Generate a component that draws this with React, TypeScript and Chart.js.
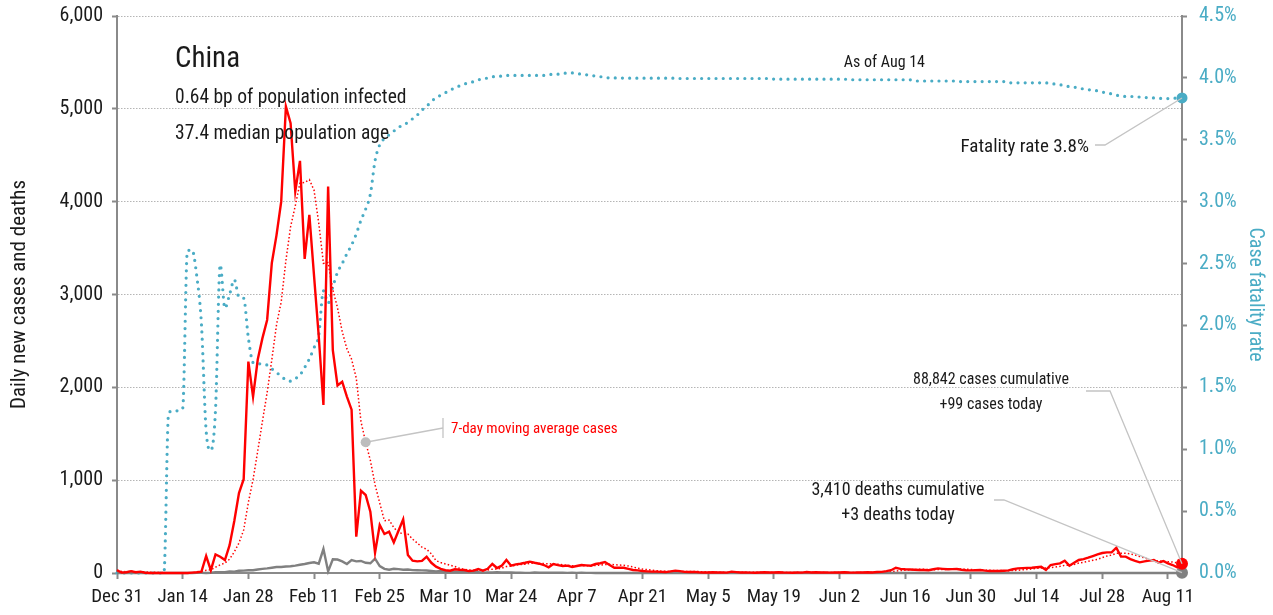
import React, { useEffect, useRef } from 'react';
import { Chart, registerables } from 'chart.js';

Chart.register(...registerables);

const FONT = "'Liberation Sans Narrow', 'Roboto Condensed', 'DejaVu Sans Condensed', 'Arial Narrow', sans-serif";

// Day index 0 = Dec 31, last index 227 = Aug 14
const X_TICK_DAYS = [0, 14, 28, 42, 56, 70, 84, 98, 112, 126, 140, 154, 168, 182, 196, 210, 224];
const X_TICK_LABELS = ['Dec 31', 'Jan 14', 'Jan 28', 'Feb 11', 'Feb 25', 'Mar 10', 'Mar 24', 'Apr 7', 'Apr 21', 'May 5', 'May 19', 'Jun 2', 'Jun 16', 'Jun 30', 'Jul 14', 'Jul 28', 'Aug 11'];

const DAILY_CASES = [
  30, 5, 8, 20, 8, 15, 3, 0, 0, 0,
  0, 0, 0, 0, 0, 0, 4, 8, 15, 183,
  30, 200, 175, 140, 300, 560, 860, 1010, 2277, 1900,
  2300, 2530, 2726, 3340, 3640, 4000, 5025, 4845, 4110, 4440,
  3384, 3858, 3200, 2550, 1810, 4163, 2400, 2020, 2060, 1900,
  1760, 391, 887, 840, 660, 219, 517, 420, 445, 330,
  455, 578, 194, 133, 125, 130, 176, 110, 68, 45,
  30, 25, 40, 35, 32, 20, 25, 43, 25, 45,
  97, 54, 79, 140, 79, 93, 100, 110, 122, 110,
  100, 86, 61, 97, 85, 75, 79, 65, 75, 86,
  82, 79, 97, 105, 118, 86, 57, 57, 57, 45,
  32, 28, 22, 18, 15, 15, 12, 10, 18, 25,
  20, 12, 10, 12, 8, 6, 5, 8, 6, 5,
  4, 15, 10, 6, 5, 4, 3, 5, 8, 5,
  6, 8, 5, 4, 3, 6, 4, 10, 5, 8,
  6, 5, 4, 5, 6, 8, 5, 4, 6, 5,
  8, 6, 10, 12, 20, 30, 57, 45, 40, 38,
  35, 33, 32, 30, 40, 50, 45, 40, 42, 43,
  35, 30, 28, 30, 32, 26, 22, 22, 22, 25,
  28, 40, 50, 52, 55, 57, 62, 68, 32, 86,
  95, 104, 133, 79, 110, 140, 150, 165, 183, 200,
  215, 222, 223, 273, 176, 176, 150, 130, 115, 125,
  133, 140, 111, 129, 104, 86, 60, 99,
];

const DAILY_DEATHS = [
  0, 0, 0, 0, 0, 0, 0, 0, 0, 0,
  0, 1, 0, 0, 0, 0, 0, 1, 1, 0,
  3, 8, 9, 8, 16, 15, 24, 26, 30, 30,
  38, 45, 50, 57, 64, 65, 70, 73, 80, 89,
  97, 108, 115, 100, 258, 18, 147, 145, 125, 97,
  140, 125, 130, 110, 105, 155, 75, 45, 35, 45,
  42, 35, 38, 31, 30, 28, 27, 22, 17, 22,
  11, 7, 13, 10, 14, 13, 11, 8, 3, 7,
  6, 9, 7, 5, 6, 3, 4, 1, 1, 7,
  3, 4, 2, 3, 2, 3, 1, 2, 1, 2,
  1, 1, 0, 1, 0, 1, 0, 0, 1, 0,
  0, 0, 0, 0, 1, 0, 0, 0, 0, 0,
  0, 0, 0, 0, 0, 0, 0, 0, 0, 0,
  0, 0, 0, 0, 0, 0, 0, 0, 0, 0,
  0, 0, 0, 0, 0, 0, 0, 0, 0, 0,
  0, 0, 0, 0, 0, 0, 0, 0, 0, 0,
  0, 0, 0, 0, 0, 0, 0, 0, 0, 0,
  0, 0, 0, 0, 0, 0, 0, 0, 0, 0,
  0, 0, 0, 0, 0, 0, 0, 0, 0, 0,
  0, 0, 0, 0, 0, 0, 0, 0, 0, 0,
  0, 0, 0, 0, 0, 0, 0, 0, 0, 0,
  0, 0, 0, 0, 0, 0, 0, 0, 0, 0,
  0, 0, 0, 0, 0, 0, 0, 3,
];

// Case fatality rate, percent
const FATALITY_RATE = [
  0, 0, 0, 0, 0, 0, 0, 0, 0, 0,
  0, 1.29, 1.31, 1.31, 1.33, 2.60, 2.61, 2.40, 2.01, 1.15,
  0.99, 1.32, 2.49, 2.14, 2.25, 2.37, 2.23, 2.22, 1.90, 1.70,
  1.69, 1.69, 1.68, 1.65, 1.62, 1.59, 1.56, 1.55, 1.57, 1.60,
  1.66, 1.73, 1.82, 1.92, 2.28, 2.18, 2.31, 2.43, 2.50, 2.58,
  2.65, 2.74, 2.85, 2.94, 3.06, 3.33, 3.46, 3.51, 3.54, 3.57,
  3.60, 3.62, 3.64, 3.67, 3.70, 3.74, 3.77, 3.81, 3.84, 3.86,
  3.88, 3.90, 3.92, 3.935, 3.95, 3.96, 3.97, 3.985, 3.99, 4.00,
  4.01, 4.01, 4.015, 4.02, 4.02, 4.02, 4.02, 4.02, 4.02, 4.02,
  4.02, 4.02, 4.025, 4.03, 4.03, 4.035, 4.04, 4.04, 4.035, 4.03,
  4.025, 4.02, 4.015, 4.01, 4.005, 4.0, 4.0, 4.0, 3.998, 3.998,
  3.998, 3.998, 3.998, 3.998, 3.998, 3.998, 3.998, 3.998, 3.998, 3.998,
  3.995, 3.995, 3.995, 3.995, 3.995, 3.995, 3.995, 3.995, 3.995, 3.995,
  3.995, 3.995, 3.995, 3.995, 3.995, 3.995, 3.995, 3.995, 3.995, 3.995,
  3.99, 3.99, 3.99, 3.99, 3.99, 3.99, 3.99, 3.99, 3.99, 3.99,
  3.99, 3.99, 3.99, 3.99, 3.99, 3.99, 3.985, 3.985, 3.985, 3.985,
  3.985, 3.985, 3.985, 3.985, 3.985, 3.985, 3.985, 3.985, 3.985, 3.985,
  3.975, 3.975, 3.975, 3.975, 3.975, 3.975, 3.975, 3.975, 3.975, 3.975,
  3.97, 3.97, 3.97, 3.97, 3.97, 3.97, 3.97, 3.97, 3.97, 3.97,
  3.96, 3.96, 3.96, 3.96, 3.96, 3.96, 3.96, 3.96, 3.96, 3.955,
  3.95, 3.945, 3.935, 3.93, 3.925, 3.92, 3.91, 3.905, 3.90, 3.895,
  3.885, 3.88, 3.87, 3.86, 3.855, 3.85, 3.85, 3.848, 3.845, 3.842,
  3.84, 3.838, 3.835, 3.833, 3.833, 3.835, 3.837, 3.838,
];

// 7-day trailing moving average of daily cases
const MOVING_AVG = DAILY_CASES.map((_, i) => {
  const w = DAILY_CASES.slice(Math.max(0, i - 6), i + 1);
  return w.reduce((a, b) => a + b, 0) / w.length;
});

const MA_MARK_INDEX = 53;

const RED = '#ff0000';
const GRAY = '#808080';
const TEAL = '#4aacc5';
const AXIS = '#8a8a8a';
const TEXT = '#1a1a1a';

const toPts = (arr: number[]) => arr.map((y, x) => ({ x, y }));
const LAST = DAILY_CASES.length - 1;

const annotations = {
  id: 'annotations',
  afterDatasetsDraw(chart: any) {
    const { ctx, scales } = chart;
    const x = scales.x, y = scales.y, y1 = scales.y1;
    const txt = (s: string, px: number, py: number, size: number, color: string, align: CanvasTextAlign = 'left') => {
      ctx.save();
      ctx.font = `${size}px ${FONT}`;
      ctx.fillStyle = color;
      ctx.textAlign = align;
      ctx.textBaseline = 'alphabetic';
      ctx.fillText(s, px, py);
      ctx.restore();
    };
    const line = (pts: number[][], color = '#c4c4c4', w = 1.3) => {
      ctx.save();
      ctx.strokeStyle = color;
      ctx.lineWidth = w;
      ctx.beginPath();
      pts.forEach((p, i) => (i ? ctx.lineTo(p[0], p[1]) : ctx.moveTo(p[0], p[1])));
      ctx.stroke();
      ctx.restore();
    };

    txt('China', 175, 67, 29, TEXT);
    txt('0.64 bp of population infected', 175, 103, 19.5, TEXT);
    txt('37.4 median population age', 175, 139, 19.5, TEXT);
    txt('As of Aug 14', 925, 67, 16, TEXT, 'right');

    // fatality rate label
    const fx = x.getPixelForValue(LAST), fy = y1.getPixelForValue(FATALITY_RATE[LAST]);
    line([[1095, 145], [1105, 145], [fx, fy]]);
    txt('Fatality rate 3.8%', 1089, 152, 19, TEXT, 'right');

    // cases label
    const cx = x.getPixelForValue(LAST), cy = y.getPixelForValue(DAILY_CASES[LAST]);
    line([[1086, 391], [1110, 391], [cx, cy]]);
    txt('88,842 cases cumulative', 991, 384, 16, TEXT, 'center');
    txt('+99 cases today', 991, 409, 16, TEXT, 'center');

    // deaths label
    const dx = x.getPixelForValue(LAST), dy = y.getPixelForValue(DAILY_DEATHS[LAST]);
    line([[994, 500], [1004, 500], [dx, dy]]);
    txt('3,410 deaths cumulative', 898, 495, 18, TEXT, 'center');
    txt('+3 deaths today', 898, 520, 18, TEXT, 'center');

    // moving average label
    const mx = x.getPixelForValue(MA_MARK_INDEX), my = y.getPixelForValue(MOVING_AVG[MA_MARK_INDEX]);
    line([[mx, my], [443, 428]]);
    line([[443, 418], [443, 438]]);
    ctx.save();
    ctx.fillStyle = '#bdbdbd';
    ctx.beginPath();
    ctx.arc(mx, my, 5, 0, Math.PI * 2);
    ctx.fill();
    ctx.restore();
    txt('7-day moving average cases', 451, 433, 15, RED);
  },
};

export default function App() {
  const ref = useRef<HTMLCanvasElement | null>(null);
  useEffect(() => {
    if (!ref.current) return;
    Chart.defaults.font.family = FONT;
    const lastOnly = (r: number) => (c: any) => (c.dataIndex === LAST ? r : 0);
    const chart = new Chart(ref.current, {
      type: 'line',
      data: {
        datasets: [
          {
            label: 'Daily new cases',
            data: toPts(DAILY_CASES),
            yAxisID: 'y',
            borderColor: RED,
            backgroundColor: RED,
            borderWidth: 2.4,
            pointRadius: lastOnly(6),
            pointHoverRadius: 0,
            pointBorderWidth: 0,
            pointBackgroundColor: RED,
            clip: false,
          },
          {
            label: 'Daily deaths',
            data: toPts(DAILY_DEATHS),
            yAxisID: 'y',
            borderColor: GRAY,
            backgroundColor: GRAY,
            borderWidth: 2.4,
            pointRadius: lastOnly(6),
            pointHoverRadius: 0,
            pointBorderWidth: 0,
            pointBackgroundColor: GRAY,
            clip: false,
          },
          {
            label: '7-day moving average cases',
            data: toPts(MOVING_AVG),
            yAxisID: 'y',
            borderColor: RED,
            borderWidth: 1.5,
            borderDash: [1.5, 2.2],
            pointRadius: 0,
            pointHoverRadius: 0,
            clip: false,
          },
          {
            label: 'Case fatality rate',
            data: toPts(FATALITY_RATE),
            yAxisID: 'y1',
            borderColor: TEAL,
            backgroundColor: TEAL,
            borderWidth: 3.2,
            borderDash: [0, 7.2],
            borderCapStyle: 'round',
            cubicInterpolationMode: 'monotone',
            pointRadius: lastOnly(5.5),
            pointHoverRadius: 0,
            pointBorderWidth: 0,
            pointBackgroundColor: TEAL,
            clip: false,
          },
        ],
      },
      options: {
        responsive: false,
        animation: false,
        layout: { autoPadding: false, padding: { top: 16, left: 0, right: 0, bottom: 0 } },
        plugins: { legend: { display: false }, tooltip: { enabled: false } },
        scales: {
          x: {
            type: 'linear',
            min: 0,
            max: LAST,
            afterBuildTicks: (s: any) => {
              s.ticks = X_TICK_DAYS.map((v) => ({ value: v }));
            },
            afterFit: (s: any) => {
              s.height = 42;
              s.paddingLeft = 0;
              s.paddingRight = 0;
            },
            ticks: {
              autoSkip: false,
              maxRotation: 0,
              padding: 7,
              color: TEXT,
              font: { size: 19 },
              callback: (_v: any, i: number) => X_TICK_LABELS[i],
            },
            grid: { drawOnChartArea: false, drawTicks: true, tickLength: 6, tickColor: AXIS, tickWidth: 2, tickBorderDash: [] },
            border: { color: AXIS, width: 2 },
          },
          y: {
            position: 'left',
            min: 0,
            max: 6000,
            afterFit: (s: any) => {
              s.width = 117;
              s.paddingTop = 0;
              s.paddingBottom = 0;
            },
            ticks: {
              stepSize: 1000,
              padding: 9,
              color: TEXT,
              font: { size: 20 },
              callback: (v: any) => Number(v).toLocaleString('en-US'),
            },
            grid: { color: '#b5b5b5', lineWidth: 1, tickLength: 5, tickColor: AXIS, tickWidth: 2, tickBorderDash: [] },
            border: { color: AXIS, width: 2, dash: [1.5, 1.5] },
            title: { display: true, text: 'Daily new cases and deaths', color: TEXT, font: { size: 21 }, padding: { top: 7, bottom: 0 } },
          },
          y1: {
            position: 'right',
            min: 0,
            max: 4.5,
            afterFit: (s: any) => {
              s.width = 91;
              s.paddingTop = 0;
              s.paddingBottom = 0;
            },
            ticks: {
              stepSize: 0.5,
              padding: 12,
              color: TEAL,
              font: { size: 20 },
              callback: (v: any) => Number(v).toFixed(1) + '%',
            },
            grid: { drawOnChartArea: false, tickLength: 5, tickColor: AXIS, tickWidth: 2, tickBorderDash: [] },
            border: { color: AXIS, width: 2 },
            title: { display: true, text: 'Case fatality rate', color: TEAL, font: { size: 20 }, padding: { top: 6, bottom: 0 } },
          },
        },
      },
      plugins: [annotations],
    } as any);
    return () => chart.destroy();
  }, []);
  return (
    <div style={{ position: 'absolute', left: 0, top: 0, width: 1273, height: 615, background: '#fff' }}>
      <canvas ref={ref} width={1273} height={615} style={{ display: 'block' }} />
    </div>
  );
}
